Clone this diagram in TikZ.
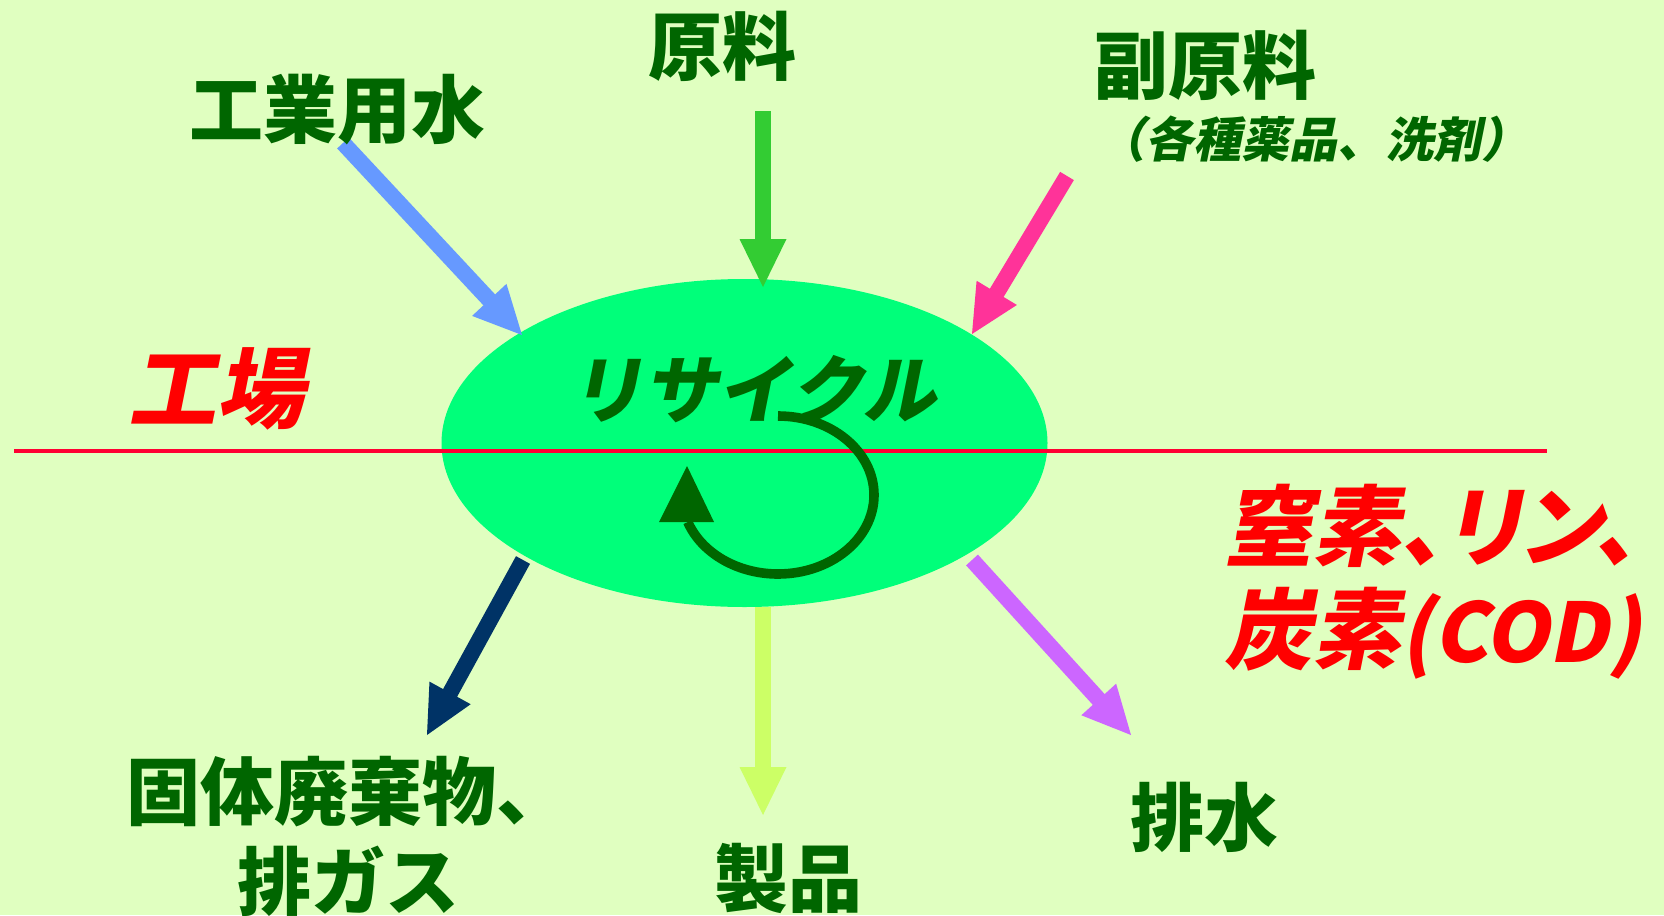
\documentclass[tikz,border=0pt]{standalone}
\usepackage{fontspec}
\usetikzlibrary{calc,shapes.geometric}
\newfontfamily\jp{Noto Sans CJK JP}
\newfontfamily\jpsl{Noto Sans CJK JP}[FakeSlant=0.2]
\newfontfamily\jpslp{Noto Sans CJK JP}[FakeSlant=0.2,RawFeature=+palt]
\definecolor{bgcol}{HTML}{E0FFC0}
\definecolor{ellcol}{HTML}{00FF7A}
\definecolor{dkgreen}{HTML}{006600}
\definecolor{redtxt}{HTML}{FF0000}
\definecolor{redline}{HTML}{FF0033}
\definecolor{arrblue}{HTML}{6699FF}
\definecolor{arrgreen}{HTML}{33CC33}
\definecolor{arrpink}{HTML}{FF3399}
\definecolor{arrnavy}{HTML}{003366}
\definecolor{arryellow}{HTML}{CCFF66}
\definecolor{arrpurple}{HTML}{CC66FF}
\newcommand\blockarrow[4]{%
  \coordinate (#4hb) at ($(#3)!24pt!(#2)$);
  \draw[#1, line width=8pt] (#2) -- ($(#3)!20pt!(#2)$);
  \fill[#1] (#3) -- ($(#4hb)!11.75pt!90:(#3)$) -- ($(#4hb)!11.75pt!-90:(#3)$) -- cycle;
}
\begin{document}
\begin{tikzpicture}[x=0.5pt,y=-0.5pt,
  lbl/.style={text=dkgreen, inner sep=0pt, font=\jp\bfseries\fontsize{37}{45}\selectfont},
  sublbl/.style={text=dkgreen, inner sep=0pt, font=\jpsl\bfseries\fontsize{24}{28}\selectfont},
  recylbl/.style={text=dkgreen, inner sep=0pt, font=\jpsl\bfseries\fontsize{37}{44}\selectfont},
  redlbl/.style={text=redtxt, inner sep=0pt, font=\jpslp\bfseries\fontsize{44}{51.5}\selectfont},
  factory/.style={ellipse, fill=ellcol, inner sep=0pt, minimum width=303pt, minimum height=164pt}]
\useasboundingbox (0,0) rectangle (1664,915);
\fill[bgcol] (0,0) rectangle (1664,915);

% central ellipse
\node[factory] (fac) at (744.5,443) {};

% boundary line
\coordinate (lineL) at (14,451);
\coordinate (lineR) at (1547,451);
\draw[redline, line width=2pt] (lineL) -- (lineR);

% recycle loop
\coordinate (loopstart) at (778,416);
\draw[dkgreen, line width=4.8pt] (loopstart) arc[start angle=90, end angle=-160, x radius=48pt, y radius=39.5pt];
\coordinate (looptip) at (687,466);
\coordinate (loopbL) at (659,522);
\coordinate (loopbR) at (714,522);
\fill[dkgreen] (looptip) -- (loopbL) -- (loopbR) -- cycle;

% arrow end points
\coordinate (wS) at (343,143);  \coordinate (wE) at (522,335);
\coordinate (rS) at (763,111);  \coordinate (rE) at (763,287);
\coordinate (sS) at (1067,176); \coordinate (sE) at (972,334);
\coordinate (gS) at (523,560);  \coordinate (gE) at (427,735);
\coordinate (pS) at (763,607);  \coordinate (pE) at (763,815);
\coordinate (dS) at (972,560);  \coordinate (dE) at (1131,735);

\blockarrow{arrblue}{wS}{wE}{w}
\blockarrow{arrgreen}{rS}{rE}{r}
\blockarrow{arrpink}{sS}{sE}{s}
\blockarrow{arrnavy}{gS}{gE}{g}
\blockarrow{arryellow}{pS}{pE}{p}
\blockarrow{arrpurple}{dS}{dE}{d}

% labels
\node[lbl] (genryo) at (722,46) {原料};
\node[lbl] (kogyo) at (337,110) {工業用水};
\node[lbl] (fuku) at (1205,65) {副原料};
\node[sublbl] (fukusub) at (1313,139) {（各種薬品、洗剤）};
\node[redlbl] (kojo) at (216,389) {工場};
\node[recylbl] (recy) at (753,389) {リサイクル};
\node[redlbl, anchor=west, align=left] (nut) at (1224,582) {窒素、リン、\\炭素{\fontsize{41}{51.5}\selectfont(COD)}};
\node[lbl, align=center] (waste) at (348,836) {固体廃棄物、\\排ガス};
\node[lbl] (seihin) at (788,878) {製品};
\node[lbl] (haisui) at (1204,817) {排水};
\end{tikzpicture}
\end{document}
